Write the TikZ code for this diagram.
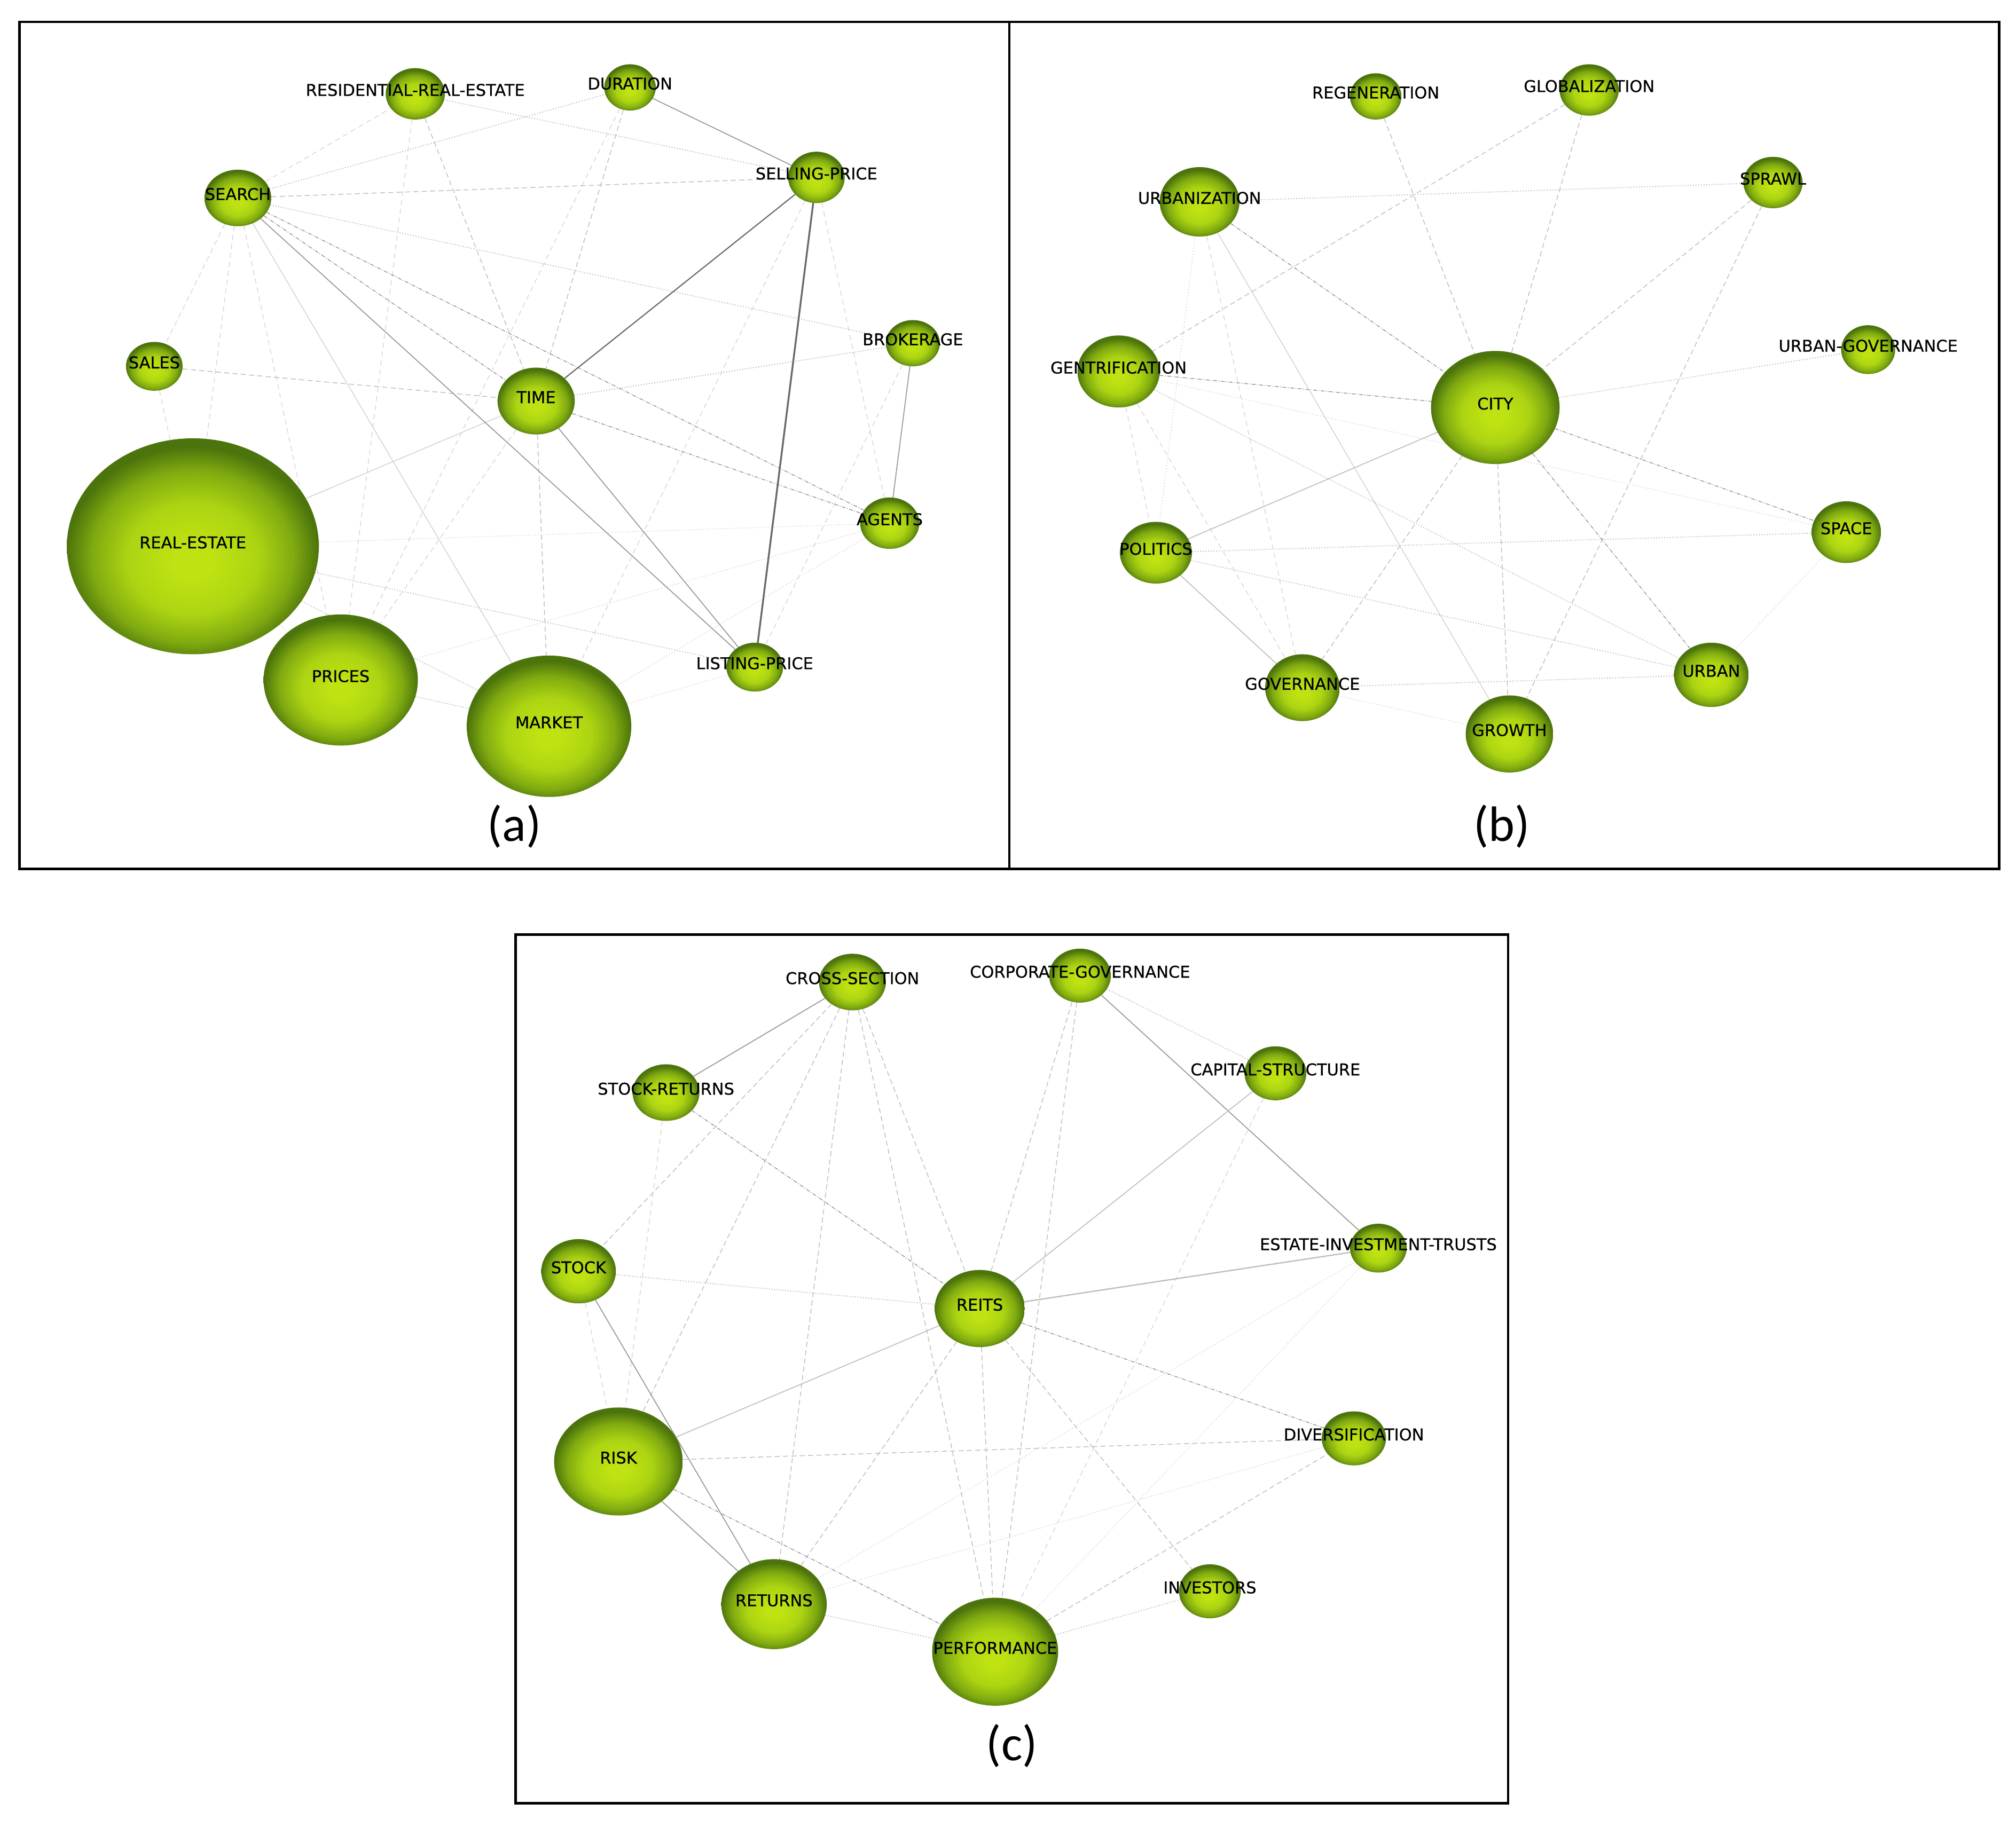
\documentclass[tikz,border=0pt]{standalone}
\usepackage{fontspec}
\setmainfont{DejaVu Sans}
\newfontfamily\lblfont{DejaVu Sans}[AutoFakeBold=0.6]
\newfontfamily\capfont{Carlito}
\usetikzlibrary{shapes.geometric}
\definecolor{gl}{RGB}{190,226,18}
\definecolor{gk}{RGB}{172,212,18}
\definecolor{gm}{RGB}{128,170,16}
\definecolor{gd}{RGB}{76,116,12}
\definecolor{eD}{RGB}{105,105,105}
\definecolor{eM}{RGB}{150,150,150}
\definecolor{eL}{RGB}{190,190,190}
\definecolor{eV}{RGB}{215,215,215}
\pgfdeclareradialshading{gball}{\pgfpoint{0bp}{-4bp}}{color(0bp)=(gl); color(4bp)=(gl); color(13bp)=(gk); color(20bp)=(gm); color(25bp)=(gd); color(50bp)=(gd)}
\pgfdeclarelayer{back}
\pgfdeclarelayer{bg}
\pgfsetlayers{back,bg,main}
\tikzset{
  kwball/.style={ellipse, inner sep=0pt, shade, shading=gball, draw=none},
  lbl/.style={font=\lblfont\bfseries\fontsize{36}{36}\selectfont, text=black, inner sep=0pt, yshift=3mm},
  captxt/.style={font=\capfont\fontsize{110}{110}\selectfont, inner sep=0pt},
  frame/.style={draw=black, line width=2mm},
  edark/.style={draw=eD, line width=1.2mm},
  esolid/.style={draw=eM, line width=0.7mm},
  elight/.style={draw=eL, line width=0.7mm},
  efaint/.style={draw=eV, line width=0.7mm},
  edd/.style={draw=eM, line width=0.6mm, dash pattern=on 3mm off 1.2mm on 0.6mm off 1.2mm},
  edot/.style={draw=eL, line width=0.8mm, dash pattern=on 0.7mm off 1.4mm},
  edotf/.style={draw=eV, line width=0.7mm, dash pattern=on 0.7mm off 1.6mm},
  edash/.style={draw=eL, line width=0.6mm, dash pattern=on 4mm off 2.5mm},
  edashf/.style={draw=eV, line width=0.6mm, dash pattern=on 4mm off 3mm},
}
\newcommand\kwnode[6]{\node[kwball, minimum width={2*#4mm}, minimum height={2*#5mm}, label={[lbl]center:#6}] (#1) at (#2,#3) {};}
\begin{document}
\begin{tikzpicture}[x=1mm, y=-1mm]
\useasboundingbox (0,0) rectangle (1568,1421);
\begin{pgfonlayer}{back}
\fill[white] (0,0) rectangle (1568,1421);
\end{pgfonlayer}
% frames
\draw[frame] (15,17) rectangle (785,676);
\draw[frame] (785,17) rectangle (1555,676);
\draw[frame] (401,727) rectangle (1173,1403);
% panel (a)
\kwnode{rre}{323}{73}{23}{20}{RESIDENTIAL-REAL-ESTATE}
\kwnode{dur}{490}{68}{20}{18}{DURATION}
\kwnode{search}{185}{154}{26}{22}{SEARCH}
\kwnode{sp}{635}{138}{22}{20}{SELLING-PRICE}
\kwnode{sales}{120}{285}{22}{19}{SALES}
\kwnode{brok}{710}{267}{21}{18}{BROKERAGE}
\kwnode{time}{417}{312}{30}{26}{TIME}
\kwnode{re}{150}{425}{98}{84}{REAL-ESTATE}
\kwnode{agents}{692}{407}{23}{20}{AGENTS}
\kwnode{prices}{265}{529}{60}{51}{PRICES}
\kwnode{market}{427}{565}{64}{55}{MARKET}
\kwnode{lp}{587}{519}{22}{19}{LISTING-PRICE}
\node[captxt] (capa) at (400,643) {(a)};
% panel (b)
\kwnode{regen}{1070}{75}{20}{18}{REGENERATION}
\kwnode{glob}{1236}{70}{23}{20}{GLOBALIZATION}
\kwnode{urbz}{933}{157}{31}{27}{URBANIZATION}
\kwnode{sprawl}{1379}{142}{23}{20}{SPRAWL}
\kwnode{gent}{870}{289}{32}{28}{GENTRIFICATION}
\kwnode{city}{1163}{317}{50}{44}{CITY}
\kwnode{ugov}{1453}{272}{21}{19}{URBAN-GOVERNANCE}
\kwnode{pol}{899}{430}{28}{24}{POLITICS}
\kwnode{space}{1436}{414}{27}{24}{SPACE}
\kwnode{gov}{1013}{535}{29}{26}{GOVERNANCE}
\kwnode{urban}{1331}{525}{29}{25}{URBAN}
\kwnode{growth}{1174}{571}{34}{30}{GROWTH}
\node[captxt] (capb) at (1168,643) {(b)};
% panel (c)
\kwnode{cross}{663}{764}{26}{22}{CROSS-SECTION}
\kwnode{corp}{840}{759}{24}{21}{CORPORATE-GOVERNANCE}
\kwnode{sret}{518}{850}{26}{22}{STOCK-RETURNS}
\kwnode{capst}{992}{835}{24}{21}{CAPITAL-STRUCTURE}
\kwnode{stock}{450}{989}{29}{25}{STOCK}
\kwnode{reits}{762}{1018}{35}{30}{REITS}
\kwnode{eit}{1072}{971}{22}{19}{ESTATE-INVESTMENT-TRUSTS}
\kwnode{risk}{481}{1137}{50}{42}{RISK}
\kwnode{div}{1053}{1119}{25}{21}{DIVERSIFICATION}
\kwnode{ret}{602}{1248}{41}{35}{RETURNS}
\kwnode{inv}{941}{1238}{24}{21}{INVESTORS}
\kwnode{perf}{774}{1285}{49}{42}{PERFORMANCE}
\node[captxt] (capc) at (787,1358) {(c)};
\begin{pgfonlayer}{bg}
% ---- panel (a) edges
\draw[edashf] (search) -- (sales);
\draw[edashf] (search) -- (re);
\draw[edashf] (search) -- (prices);
\draw[edashf] (search) -- (rre);
\draw[edashf] (sales) -- (re);
\draw[edashf] (rre) -- (prices);
\draw[edashf] (dur) -- (prices);
\draw[edashf] (time) -- (prices);
\draw[edashf] (sp) -- (market);
\draw[edashf] (sp) -- (agents);
\draw[edashf] (brok) -- (lp);
\draw[edotf] (agents) -- (market);
\draw[edotf] (prices) -- (agents);
\draw[edotf] (re) -- (agents);
\draw[edotf] (market) -- (lp);
\draw[edotf] (re) -- (prices);
\draw[edash] (dur) -- (time);
\draw[edash] (rre) -- (time);
\draw[edash] (sales) -- (time);
\draw[edash] (time) -- (market);
\draw[edash] (search) -- (sp);
\draw[efaint] (time) -- (re);
\draw[efaint] (search) -- (market);
\draw[edot] (search) -- (dur);
\draw[edot] (search) -- (brok);
\draw[edot] (rre) -- (sp);
\draw[edot] (time) -- (brok);
\draw[edot] (re) -- (lp);
\draw[edot] (re) -- (market);
\draw[edot] (prices) -- (market);
\draw[edd] (search) -- (time);
\draw[edd] (search) -- (agents);
\draw[edd] (time) -- (agents);
\draw[esolid] (search) -- (lp);
\draw[esolid] (brok) -- (agents);
\draw[esolid] (time) -- (lp);
\draw[esolid] (dur) -- (sp);
\draw[edark, line width=0.9mm] (sp) -- (time);
\draw[edark, line width=1.4mm] (sp) -- (lp);
% ---- panel (b) edges
\draw[edashf] (urbz) -- (gov);
\draw[edotf] (urbz) -- (pol);
\draw[edashf] (gent) -- (pol);
\draw[edashf] (gent) -- (gov);
\draw[efaint] (urbz) -- (growth);
\draw[edotf] (gent) -- (space);
\draw[edotf] (gov) -- (growth);
\draw[edotf] (urban) -- (space);
\draw[edash] (regen) -- (city);
\draw[edash] (glob) -- (city);
\draw[edash] (glob) -- (gent);
\draw[edash] (sprawl) -- (city);
\draw[edash] (sprawl) -- (growth);
\draw[edash] (city) -- (gov);
\draw[edash] (city) -- (growth);
\draw[edot] (urbz) -- (sprawl);
\draw[edot] (gent) -- (urban);
\draw[edot] (city) -- (ugov);
\draw[edot] (pol) -- (space);
\draw[edot] (pol) -- (urban);
\draw[edot] (gov) -- (urban);
\draw[edd] (urbz) -- (city);
\draw[edd] (city) -- (space);
\draw[edd] (city) -- (urban);
\draw[edd] (gent) -- (city);
\draw[elight] (city) -- (pol);
\draw[elight] (pol) -- (gov);
% ---- panel (c) edges
\draw[edashf] (sret) -- (risk);
\draw[edashf] (stock) -- (risk);
\draw[edashf] (capst) -- (perf);
\draw[edotf] (ret) -- (eit);
\draw[edotf] (ret) -- (div);
\draw[edotf] (perf) -- (eit);
\draw[edash] (cross) -- (risk);
\draw[edash] (cross) -- (ret);
\draw[edash] (cross) -- (reits);
\draw[edash] (cross) -- (stock);
\draw[edash] (cross) -- (perf);
\draw[edash] (corp) -- (reits);
\draw[edash] (corp) -- (perf);
\draw[edash] (reits) -- (ret);
\draw[edash] (reits) -- (perf);
\draw[edash] (reits) -- (inv);
\draw[edash] (risk) -- (div);
\draw[edash] (perf) -- (div);
\draw[edot] (corp) -- (capst);
\draw[edot] (stock) -- (reits);
\draw[edot] (ret) -- (perf);
\draw[edot] (perf) -- (inv);
\draw[edd] (sret) -- (reits);
\draw[edd] (reits) -- (div);
\draw[edd] (risk) -- (perf);
\draw[elight] (reits) -- (risk);
\draw[elight, line width=1mm] (reits) -- (eit);
\draw[esolid] (cross) -- (sret);
\draw[esolid] (corp) -- (eit);
\draw[elight] (capst) -- (reits);
\draw[esolid] (stock) -- (ret);
\draw[esolid] (risk) -- (ret);
\end{pgfonlayer}
\end{tikzpicture}
\end{document}
